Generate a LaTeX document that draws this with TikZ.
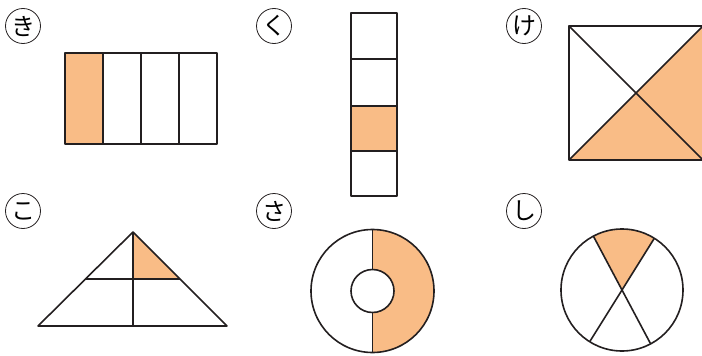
\documentclass[tikz,border=0pt]{standalone}
\usepackage{fontspec}
\newfontfamily\jpfont{Noto Sans CJK JP}
\usetikzlibrary{calc}
\definecolor{shadeorange}{HTML}{F9BC86}
\definecolor{inkblack}{HTML}{231F20}

\begin{document}
\begin{tikzpicture}[x=1pt,y=-1pt,
  part/.style={line width=1.6pt,draw=inkblack,line join=round},
  tag/.style={circle,draw=inkblack,line width=0.8pt,minimum size=35pt,inner sep=0pt,
    font=\jpfont\fontsize{24}{24}\selectfont}]
  \useasboundingbox (0,0) rectangle (702,356);

  % Panel ki: rectangle in four strips
  \node[tag] (tagki) at (23,26) {き};
  \fill[shadeorange] (65,53) rectangle (103,144);
  \draw[part] (65,53) rectangle (217,144);
  \foreach \x in {103,141,179} \draw[part] (\x,53) -- (\x,144);

  % Panel ku: column of four squares
  \node[tag] (tagku) at (274,26) {く};
  \fill[shadeorange] (351,106) rectangle (397,151);
  \draw[part] (351,13) rectangle (397,196);
  \foreach \y in {59,106,151} \draw[part] (351,\y) -- (397,\y);

  % Panel ke: square with both diagonals
  \node[tag] (tagke) at (524,26) {け};
  \coordinate (ke) at (636,93);
  \fill[shadeorange] (569,160) -- (ke) -- (703,26) -- (703,160) -- cycle;
  \draw[part] (569,26) rectangle (703,160);
  \draw[part] (569,26) -- (703,160) (569,160) -- (703,26);

  % Panel ko: triangle cut by a midline and the height
  \node[tag] (tagko) at (23,211) {こ};
  \fill[shadeorange] (133,232) -- (133,279) -- (180,279) -- cycle;
  \draw[part] (133,232) -- (227,326) -- (38,326) -- cycle;
  \draw[part] (133,232) -- (133,326) (85.5,279) -- (180,279);

  % Panel sa: ring, right half shaded
  \node[tag] (tagsa) at (274,211) {さ};
  \coordinate (sa) at (372.5,291);
  \fill[shadeorange] ($(sa)+(0,-61.5)$) arc[start angle=-90,end angle=90,radius=61.5]
    -- ($(sa)+(0,21.5)$) arc[start angle=90,end angle=-90,radius=21.5] -- cycle;
  \draw[part] (sa) circle[radius=61.5] (sa) circle[radius=21.5];
  \draw[part] ($(sa)+(0,-61.5)$) -- ($(sa)+(0,-21.5)$) ($(sa)+(0,21.5)$) -- ($(sa)+(0,61.5)$);

  % Panel shi: circle with two crossing diameters
  \node[tag] (tagshi) at (524,211) {し};
  \coordinate (shi) at (622,290);
  \fill[shadeorange] (shi) -- ($(shi)+(-118:61)$) arc[start angle=-118,end angle=-58,radius=61] -- cycle;
  \draw[part] (shi) circle[radius=61];
  \draw[part] ($(shi)+(-118:61)$) -- ($(shi)+(62:61)$) ($(shi)+(-58:61)$) -- ($(shi)+(122:61)$);
\end{tikzpicture}
\end{document}
